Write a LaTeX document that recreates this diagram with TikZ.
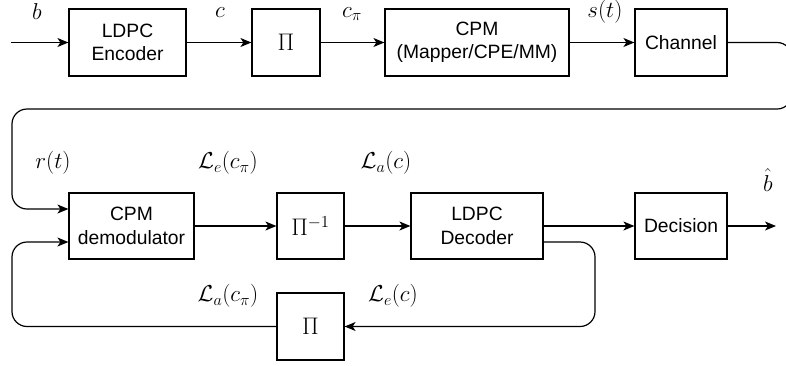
\RequirePackage{fix-cm}
\documentclass[tikz,border=0pt]{standalone}
\usepackage[no-math]{fontspec}
\setmainfont{Liberation Sans}
\usetikzlibrary{arrows.meta}
\tikzset{
  blk/.style={draw, line width=1.2pt, minimum height=67pt, inner sep=0pt, align=center,
    font=\fontsize{19.3}{23.5}\selectfont},
  pibox/.style={blk, font=\fontsize{24}{28}\selectfont},
  lbl/.style={inner sep=0pt, font=\fontsize{23}{27}\selectfont},
  arr/.style={-{Stealth[length=11pt,width=9pt,inset=3pt]}, line width=1.2pt}
}
\begin{document}
\begin{tikzpicture}[x=1pt,y=-1pt]
\useasboundingbox (0,0) rectangle (786,365);
% top row
\node[blk, minimum width=117pt] (enc) at (127.5,42.5) {LDPC\\Encoder};
\node[pibox, minimum width=68pt] (pia) at (286,42.5) {$\Pi$};
\node[blk, minimum width=184pt] (cpm) at (477,42.5) {CPM\\(Mapper/CPE/MM)};
\node[blk, minimum width=92pt] (chan) at (681,42.5) {Channel};
% bottom row
\node[blk, minimum width=125pt, minimum height=66pt] (demod) at (131.5,226) {CPM\\demodulator};
\node[pibox, minimum width=67pt, minimum height=66pt] (piinv) at (310.5,226) {$\Pi^{-1}$};
\node[blk, minimum width=132pt, minimum height=66pt] (dec) at (477,226) {LDPC\\Decoder};
\node[blk, minimum width=92pt, minimum height=66pt] (decis) at (681,226) {Decision};
\node[pibox, minimum width=67pt] (pib) at (310.5,326.5) {$\Pi$};
% labels
\node[lbl] (lb) at (37,12) {$b$};
\node[lbl] (lc) at (220,13) {$c$};
\node[lbl] (lcp) at (352,14) {$c_\pi$};
\node[lbl] (ls) at (605,12) {$s(t)$};
\node[lbl] (lr) at (53,163) {$r(t)$};
\node[lbl] (lecp) at (228,163) {$\mathcal{L}_e(c_\pi)$};
\node[lbl] (lac) at (386,163) {$\mathcal{L}_a(c)$};
\node[lbl] (lbh) at (768,180) {$\hat{b}$};
\node[lbl] (lacp) at (228,296) {$\mathcal{L}_a(c_\pi)$};
\node[lbl] (lec) at (393,296) {$\mathcal{L}_e(c)$};
% coordinates
\coordinate (in) at (11,42.5);
\coordinate (r1) at (792,42.5);
\coordinate (r2) at (792,109);
\coordinate (r3) at (12,109);
\coordinate (r4) at (12,209);
\coordinate (d1) at (595,242);
\coordinate (d2) at (595,326.5);
\coordinate (l1) at (12,326.5);
\coordinate (l2) at (12,242);
\coordinate (out) at (776,226);
% connectors
\draw[arr] (in) -- (enc.west);
\draw[arr] (enc.east) -- (pia.west);
\draw[arr] (pia.east) -- (cpm.west);
\draw[arr] (cpm.east) -- (chan.west);
\draw[arr, rounded corners=15pt] (chan.east) -- (r1) -- (r2) -- (r3) -- (r4) -- (demod.west |- r4);
\draw[arr] (demod.east) -- (piinv.west);
\draw[arr] (piinv.east) -- (dec.west);
\draw[arr] (dec.east) -- (decis.west);
\draw[arr] (decis.east) -- (out);
\draw[arr, rounded corners=15pt] (dec.east |- d1) -- (d1) -- (d2) -- (pib.east);
\draw[arr, rounded corners=15pt] (pib.west) -- (l1) -- (l2) -- (demod.west |- l2);
\end{tikzpicture}
\end{document}
